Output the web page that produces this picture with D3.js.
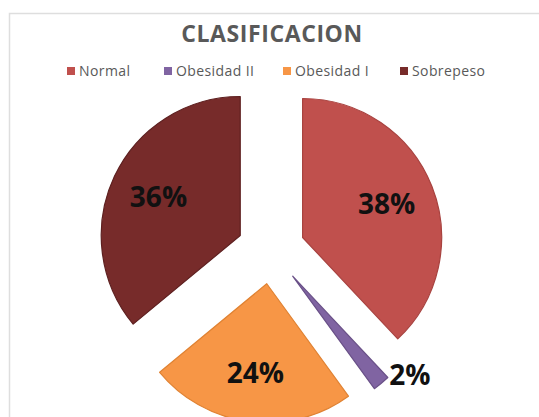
<!DOCTYPE html>
<html>
<head>
<meta charset="utf-8">
<script src="https://cdn.jsdelivr.net/npm/d3@7"></script>
<style>
  body { margin: 0; background: #fff; }
  svg { display: block; }
</style>
</head>
<body>
<div id="chart"></div>
<script>
// Pie chart "CLASIFICACION", exploded slices

const categories = ["Normal", "Obesidad II", "Obesidad I", "Sobrepeso"];
const values = [38, 2, 24, 36];
const colors = ["#C0504D", "#8064A2", "#F79646", "#772B2A"];
const strokes = ["#A8423F", "#6A5188", "#E08232", "#5E2020"];

const width = 539, height = 417;
const cx = 271, cy = 250, radius = 139, explode = 34;

const svg = d3.select("#chart")
    .append("svg")
    .attr("width", width)
    .attr("height", height);

// chart area border
svg.append("rect")
    .attr("x", 9.5).attr("y", 13.5)
    .attr("width", width + 20).attr("height", height + 20)
    .attr("fill", "#fff")
    .attr("stroke", "#dedede")
    .attr("stroke-width", 1.5);

svg.append("text")
    .attr("x", 272).attr("y", 42)
    .attr("text-anchor", "middle")
    .attr("font-family", "'Open Sans', sans-serif")
    .attr("font-weight", "bold")
    .attr("font-size", 23)
    .attr("letter-spacing", 0.6)
    .attr("fill", "#595959")
    .text("CLASIFICACION");

// legend
const legendX = [67, 164, 283, 400];
const legend = svg.append("g")
    .selectAll("g")
    .data(categories)
    .join("g")
    .attr("transform", (d, i) => `translate(${legendX[i]},67)`);

legend.append("rect")
    .attr("width", 8).attr("height", 8)
    .attr("fill", (d, i) => colors[i]);

legend.append("text")
    .attr("x", 12).attr("y", 9)
    .attr("font-family", "'Open Sans', sans-serif")
    .attr("font-size", 14)
    .attr("letter-spacing", 0.4)
    .attr("fill", "#595959")
    .text(d => d);

const pie = d3.pie().sort(null).value(d => d);
const arcs = pie(values);

const arc = d3.arc().innerRadius(0).outerRadius(radius);

// offset of each slice along its bisector
function shift(d, dist) {
  const a = (d.startAngle + d.endAngle) / 2;
  return [Math.sin(a) * dist, -Math.cos(a) * dist];
}

const g = svg.append("g").attr("transform", `translate(${cx},${cy})`);

const slice = g.selectAll("g.slice")
    .data(arcs)
    .join("g")
    .attr("class", "slice")
    .attr("transform", d => `translate(${shift(d, explode)})`);

slice.append("path")
    .attr("d", arc)
    .attr("fill", (d, i) => colors[i])
    .attr("stroke", (d, i) => strokes[i])
    .attr("stroke-width", 1.2)
    .attr("stroke-linejoin", "round");

// labels: inside for big slices, outside end for the small one
slice.append("text")
    .attr("transform", d => {
      if (d.value < 5) {
        const p = shift(d, radius);
        return `translate(${p[0] + 8},${p[1] - 8})`;
      }
      return `translate(${shift(d, radius * 0.65)})`;
    })
    .attr("text-anchor", d => d.value < 5 ? "start" : "middle")
    .attr("dy", "0.36em")
    .attr("font-family", "'Open Sans', sans-serif")
    .attr("font-weight", "bold")
    .attr("font-size", 28)
    .attr("fill", "#111")
    .text(d => d.value + "%");
</script>
</body>
</html>
